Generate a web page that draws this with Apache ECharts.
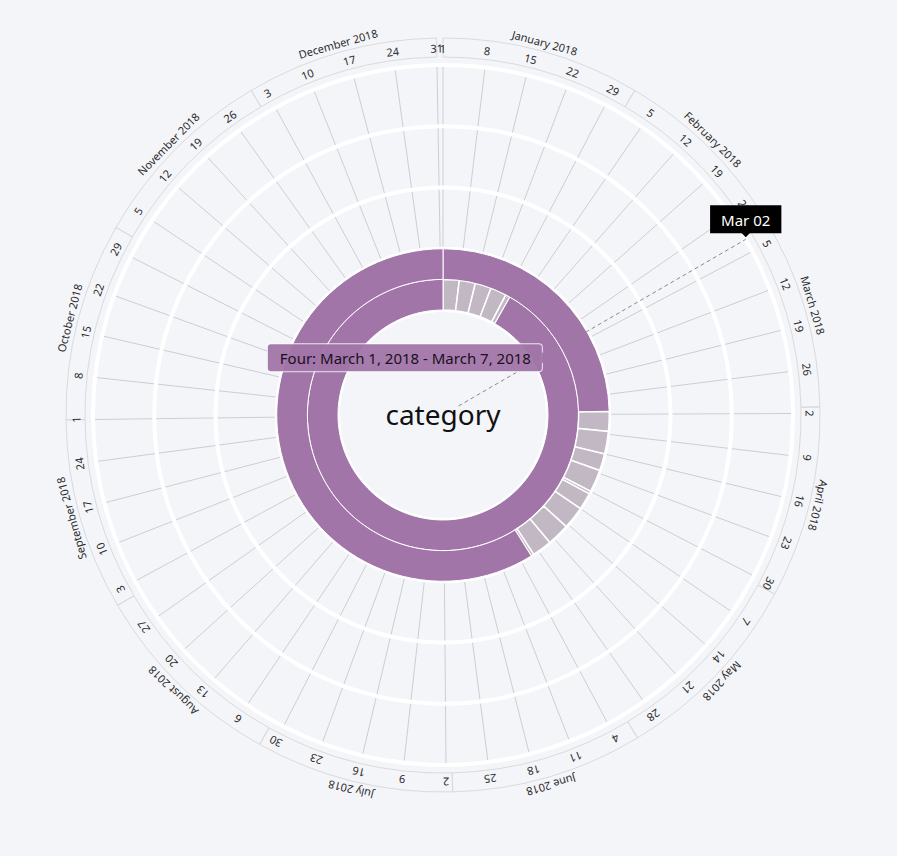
<!DOCTYPE html>
<html><head><meta charset="utf-8">
<script src="https://cdn.jsdelivr.net/npm/echarts@6/dist/echarts.min.js"></script>
<style>html,body{margin:0;padding:0;background:#f4f5f9;}#c{width:897px;height:856px;}</style>
</head><body><div id="c"></div><script>
// ---------------- data ----------------
const categories = ['Four', 'Three', 'Two', 'One'];

// series 1 (inner column of category "Four")
const innerCategory = 'Four';
const innerStart = ['2018-01-01','2018-01-08','2018-01-15','2018-01-22','2018-01-29','2018-01-31'];
const innerEnd   = ['2018-01-07','2018-01-14','2018-01-21','2018-01-28','2018-01-30','2018-12-31'];
const innerState = ['idle','idle','idle','idle','idle','active'];

// series 2 (outer column of category "Four")
const outerCategory = 'Four';
const outerStart = ['2018-01-01','2018-04-01','2018-04-08','2018-04-16','2018-04-22','2018-04-30','2018-05-01','2018-05-07','2018-05-15','2018-05-23','2018-05-30','2018-05-31'];
const outerEnd   = ['2018-03-31','2018-04-07','2018-04-15','2018-04-21','2018-04-29','2018-04-30','2018-05-06','2018-05-14','2018-05-22','2018-05-29','2018-05-30','2018-12-31'];
const outerState = ['active','idle','idle','idle','idle','idle','idle','idle','idle','idle','idle','active'];

// date axis
const axisStart = '2018-01-01';
const axisEnd = '2019-01-01';
const tickStepDays = 7;
const weekTickLabels = ['1','8','15','22','29','5','12','19','26','5','12','19','26','2','9','16','23','30','7','14','21','28','4','11','18','25','2','9','16','23','30','6','13','20','27','3','10','17','24','1','8','15','22','29','5','12','19','26','3','10','17','24','31'];
const monthNames = ['January 2018','February 2018','March 2018','April 2018','May 2018','June 2018','July 2018','August 2018','September 2018','October 2018','November 2018','December 2018'];
const monthStart = ['2018-01-01','2018-02-01','2018-03-01','2018-04-01','2018-05-01','2018-06-01','2018-07-01','2018-08-01','2018-09-01','2018-10-01','2018-11-01','2018-12-01'];
const monthEnd   = ['2018-02-01','2018-03-01','2018-04-01','2018-05-01','2018-06-01','2018-07-01','2018-08-01','2018-09-01','2018-10-01','2018-11-01','2018-12-01','2018-12-31'];

// interaction state shown in the picture
const cursorTime = '2018-03-02T17:00';
const hoverCategory = 'Four';
const hoverStart = '2018-03-01';
const hoverEnd = '2018-03-07';
const axisTitle = 'category';

// ---------------- helpers ----------------
const DAY = 86400000;
const t0 = Date.parse(axisStart + 'T00:00Z');
function dayOf(s) { return (Date.parse((s.length > 10 ? s : s + 'T00:00') + 'Z') - t0) / DAY; }
const MONTHS = ['January','February','March','April','May','June','July','August','September','October','November','December'];
function longDate(s) { const d = new Date(Date.parse(s + 'T00:00Z')); return MONTHS[d.getUTCMonth()] + ' ' + d.getUTCDate() + ', ' + d.getUTCFullYear(); }
function shortDate(s) { const d = new Date(Date.parse(s + 'Z')); return MONTHS[d.getUTCMonth()].slice(0,3) + ' ' + String(d.getUTCDate()).padStart(2,'0'); }

const PURPLE = '#a175a8';
const GRAY = '#c2b8c4';
const FONT = '"Noto Sans", "Open Sans", sans-serif';
const TEXT = '#2a2a2a';

function buildBars(cat, starts, ends, states) {
  const ci = categories.indexOf(cat);
  return starts.map((s, i) => [ci, dayOf(s), dayOf(ends[i]) + 1, states[i] === 'active' ? 1 : 0]);
}
function ang(cs, p) { return Math.atan2(p[1] - cs.cy, p[0] - cs.cx); }

function barRenderer(half) {
  return function (params, api) {
    const cs = params.coordSys;
    const cat = api.value(0);
    const p = api.coord([cat, api.value(1)]);
    const q = api.coord([cat, api.value(2)]);
    const rc = Math.hypot(p[0] - cs.cx, p[1] - cs.cy);
    const bw = api.size([1, 0])[0];
    let a0 = ang(cs, p), a1 = ang(cs, q);
    if (a1 <= a0) a1 += Math.PI * 2;
    const active = api.value(3) === 1;
    return {
      type: 'sector',
      shape: { cx: cs.cx, cy: cs.cy, r0: half === 0 ? rc - bw / 2 : rc, r: half === 0 ? rc : rc + bw / 2,
               startAngle: a0, endAngle: a1, clockwise: true },
      style: { fill: active ? PURPLE : GRAY, stroke: '#ffffff', lineWidth: active ? 1 : 1.5 }
    };
  };
}

const tickData = weekTickLabels.map((l, i) => [0, i * tickStepDays, i]);
const monthData = monthNames.map((m, i) => [0, dayOf(monthStart[i]), dayOf(monthEnd[i]), i]);

const chart = echarts.init(document.getElementById('c'), null, { renderer: 'svg', width: 897, height: 856 });
chart.setOption({
  backgroundColor: '#f4f5f9',
  animation: false,
  polar: { center: [443, 415], radius: [105, 350] },
  angleAxis: {
    type: 'value', min: 0, max: dayOf(axisEnd), interval: tickStepDays, startAngle: 90, clockwise: true, z: 0,
    axisLine: { show: false }, axisTick: { show: false }, axisLabel: { show: false },
    splitLine: { show: true, lineStyle: { color: '#cdcdd2', width: 1 } }
  },
  radiusAxis: {
    type: 'category', data: categories, z: 1,
    axisLine: { show: false }, axisTick: { show: false }, axisLabel: { show: false },
    splitLine: { show: true, lineStyle: { color: '#ffffff', width: 4 } }
  },
  graphic: [{
    type: 'text', x: 443, y: 414, z: 20,
    style: { text: axisTitle, font: '28px ' + FONT, fill: '#111', align: 'center', verticalAlign: 'middle' }
  }],
  series: [
    { type: 'custom', name: 'inner', coordinateSystem: 'polar', z: 2, encode: { radius: 0, angle: 1 },
      data: buildBars(innerCategory, innerStart, innerEnd, innerState), renderItem: barRenderer(0) },
    { type: 'custom', name: 'outer', coordinateSystem: 'polar', z: 2, encode: { radius: 0, angle: 1 },
      data: buildBars(outerCategory, outerStart, outerEnd, outerState), renderItem: barRenderer(1) },
    { type: 'custom', name: 'months', coordinateSystem: 'polar', z: 3, encode: { radius: 0, angle: 1 },
      data: monthData,
      renderItem: function (params, api) {
        const cs = params.coordSys;
        const p = api.coord([0, api.value(1)]);
        const q = api.coord([0, api.value(2)]);
        let a0 = ang(cs, p), a1 = ang(cs, q);
        if (a1 <= a0) a1 += Math.PI * 2;
        const am = (a0 + a1) / 2, rl = cs.r + 36;
        return { type: 'group', children: [
          { type: 'sector', shape: { cx: cs.cx, cy: cs.cy, r0: cs.r + 8, r: cs.r + 27, startAngle: a0, endAngle: a1, clockwise: true },
            style: { fill: 'none', stroke: '#dadadd', lineWidth: 1 } },
          { type: 'text', x: cs.cx + rl * Math.cos(am), y: cs.cy + rl * Math.sin(am), rotation: -(am + Math.PI / 2),
            style: { text: monthNames[api.value(3)], font: '11px ' + FONT, fill: TEXT, align: 'center', verticalAlign: 'middle' } }
        ] };
      } },
    { type: 'custom', name: 'weeks', coordinateSystem: 'polar', z: 3, encode: { radius: 0, angle: 1 },
      data: tickData,
      renderItem: function (params, api) {
        const cs = params.coordSys;
        const p = api.coord([0, api.value(1)]);
        const a = ang(cs, p), rl = cs.r + 17;
        return { type: 'text', x: cs.cx + rl * Math.cos(a), y: cs.cy + rl * Math.sin(a), rotation: -(a + Math.PI / 2),
          style: { text: weekTickLabels[api.value(2)], font: '11px ' + FONT, fill: TEXT, align: 'center', verticalAlign: 'middle' } };
      } },
    { type: 'custom', name: 'cursor', coordinateSystem: 'polar', z: 10, encode: { radius: 0, angle: 1 },
      data: [[0, dayOf(cursorTime)]],
      renderItem: function (params, api) {
        const cs = params.coordSys;
        const p = api.coord([0, api.value(1)]);
        const a = ang(cs, p);
        const c = Math.cos(a), s = Math.sin(a);
        const tx = cs.cx + cs.r * c, ty = cs.cy + cs.r * s;
        const py = ty - 2;
        return { type: 'group', children: [
          { type: 'line', shape: { x1: cs.cx + 18 * c, y1: cs.cy + 18 * s, x2: tx, y2: ty },
            style: { stroke: '#8a8a8a', lineWidth: 1, lineDash: [4, 3] } },
          { type: 'polygon', shape: { points: [[tx - 5, py - 5], [tx + 5, py - 5], [tx, py]] }, style: { fill: '#000' } },
          { type: 'text', x: tx, y: py - 4,
            style: { text: shortDate(cursorTime), font: '15px ' + FONT, fill: '#fff', align: 'center', verticalAlign: 'bottom',
                     backgroundColor: '#000', padding: [7, 11, 6, 11] } }
        ] };
      } },
    { type: 'custom', name: 'hover', coordinateSystem: 'polar', z: 11, encode: { radius: 0, angle: 1 },
      data: [[categories.indexOf(hoverCategory), (dayOf(hoverStart) + dayOf(hoverEnd) + 1) / 2]],
      renderItem: function (params, api) {
        const cs = params.coordSys;
        const p = api.coord([api.value(0), api.value(1)]);
        const rc = Math.hypot(p[0] - cs.cx, p[1] - cs.cy);
        const bw = api.size([1, 0])[0];
        const a = ang(cs, p), r = rc - bw / 4;
        const px = cs.cx + r * Math.cos(a), py = cs.cy + r * Math.sin(a);
        const fillC = 'rgba(161,117,168,0.95)';
        return { type: 'group', children: [
          { type: 'text', x: px - 7, y: py,
            style: { text: hoverCategory + ': ' + longDate(hoverStart) + ' - ' + longDate(hoverEnd), font: '15px ' + FONT, fill: '#1a1020',
                     align: 'right', verticalAlign: 'middle', backgroundColor: fillC, borderColor: 'rgba(255,255,255,0.8)', borderWidth: 1,
                     borderRadius: 3, padding: [6, 11, 6, 12] } },
          { type: 'polygon', shape: { points: [[px - 7.5, py - 6], [px - 7.5, py + 6], [px, py]] }, style: { fill: fillC } }
        ] };
      } }
  ]
});
</script></body></html>
